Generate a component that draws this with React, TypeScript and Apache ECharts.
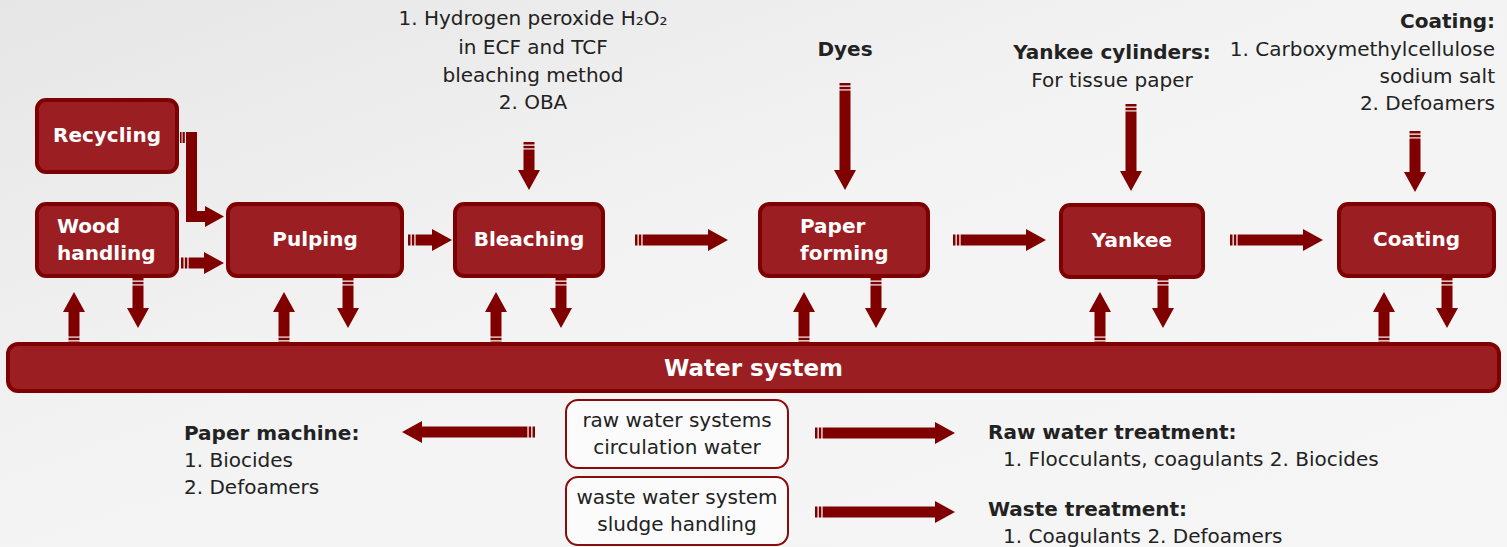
import React, { useEffect, useRef } from "react";
import * as echarts from "echarts";

// ---- content ----
const processLabels = ["Recycling", "Wood\nhandling", "Pulping", "Bleaching", "Paper\nforming", "Yankee", "Coating"];
const waterLabel = "Water system";
const bleachNote = ["1. Hydrogen peroxide H₂O₂", "in ECF and TCF", "bleaching method", "2. OBA"];
const dyesNote = ["Dyes"];
const yankeeNote = ["Yankee cylinders:", "For tissue paper"];
const coatingNote = ["Coating:", "1. Carboxymethylcellulose", "sodium salt", "2. Defoamers"];
const paperMachineNote = ["Paper machine:", "1. Biocides", "2. Defoamers"];
const rawTreatNote = ["Raw water treatment:", "1. Flocculants, coagulants 2. Biocides"];
const wasteTreatNote = ["Waste treatment:", "1. Coagulants 2. Defoamers"];
const systemLabels = [["raw water systems", "circulation water"], ["waste water system", "sludge handling"]];

// ---- layout ----
const processLayout = [
  [37, 100, 140, 72], [37, 204, 140, 72], [228, 204, 174, 72], [455, 204, 148, 72],
  [760, 204, 168, 72], [1061, 205, 142, 72], [1339, 204, 155, 72],
];
// x of label: null => centered; number => left aligned at x
const processLabelX: (number | null)[] = [null, 57, null, null, 800, null, null];
const waterLayout = [8, 344, 1491, 47];
const systemLayout = [[566, 400, 222, 68], [566, 477, 222, 68]];
const arrows = [
  [181, 263, 224, 263], [408, 240, 452, 240], [635, 240, 728, 240], [953, 240, 1046, 240], [1230, 240, 1323, 240],
  [529, 142, 529, 190], [845, 83, 845, 190], [1131, 104, 1131, 191], [1415, 131, 1415, 192],
  [74, 344, 74, 292], [284, 344, 284, 292], [496, 344, 496, 292], [804, 344, 804, 292], [1100, 344, 1100, 292], [1384, 344, 1384, 292],
  [138, 278, 138, 328], [348, 278, 348, 328], [561, 278, 561, 328], [876, 278, 876, 328], [1163, 278, 1163, 328], [1447, 278, 1447, 328],
  [535, 432, 402, 432], [815, 433, 955, 433], [815, 512, 955, 512],
];

const ARROW = "#800000";
const BOX_FILL = "#9b1e23";
const BOX_STROKE = "#7e0000";
const TEXT = "#222222";
const FONT = "'DejaVu Sans', Verdana, sans-serif";

function makeArrow(x1: number, y1: number, x2: number, y2: number) {
  const L = Math.hypot(x2 - x1, y2 - y1);
  const dx = (x2 - x1) / L, dy = (y2 - y1) / L;
  const px = -dy, py = dx;
  const sw = 5.5, hw = 11, hl = 20;
  const P = (u: number, v: number) => [x1 + u * dx + v * px, y1 + u * dy + v * py];
  const els: any[] = [];
  const poly = (pts: number[][]) => ({ type: "polygon", shape: { points: pts }, style: { fill: ARROW }, silent: true });
  // stripes
  els.push(poly([P(0, -sw), P(2.5, -sw), P(2.5, sw), P(0, sw)]));
  els.push(poly([P(3.8, -sw), P(6.3, -sw), P(6.3, sw), P(3.8, sw)]));
  els.push(poly([
    P(7.6, -sw), P(L - hl, -sw), P(L - hl, -hw), P(L, 0), P(L - hl, hw), P(L - hl, sw), P(7.6, sw),
  ]));
  return els;
}

function txt(x: number, y: number, text: string, opts: any = {}) {
  const align = opts.align || "left";
  return {
    type: "text",
    x, y, silent: true,
    style: {
      text,
      fill: opts.fill || TEXT,
      fontSize: opts.size || 20,
      fontWeight: opts.bold ? "bold" : "normal",
      fontFamily: FONT,
      align, textAlign: align,
      verticalAlign: "middle", textVerticalAlign: "middle",
      lineHeight: opts.lineHeight || 27,
    },
  };
}

export default function App() {
  const ref = useRef<HTMLDivElement>(null);
  useEffect(() => {
    const chart = echarts.init(ref.current!, undefined, { renderer: "svg" });
    const g: any[] = [];
    g.push({
      type: "rect", shape: { x: 0, y: 0, width: 1507, height: 547 }, silent: true, z: -10,
      style: {
        fill: new echarts.graphic.LinearGradient(0, 0, 1, 1, [
          { offset: 0, color: "#e6e6e6" }, { offset: 0.45, color: "#f3f3f3" }, { offset: 1, color: "#f6f6f6" },
        ]),
      },
    });
    // process boxes
    processLayout.forEach(([x, y, w, h], i) => {
      g.push({ type: "rect", shape: { x, y, width: w, height: h, r: 9 }, silent: true,
        style: { fill: BOX_FILL, stroke: BOX_STROKE, lineWidth: 4 } });
      const lx = processLabelX[i];
      g.push(txt(lx == null ? x + w / 2 : lx, y + h / 2 - 1, processLabels[i],
        { bold: true, fill: "#ffffff", align: lx == null ? "center" : "left" }));
    });
    // water system
    {
      const [x, y, w, h] = waterLayout;
      g.push({ type: "rect", shape: { x, y, width: w, height: h, r: 10 }, silent: true,
        style: { fill: BOX_FILL, stroke: BOX_STROKE, lineWidth: 4 } });
      g.push(txt(x + w / 2, y + h / 2, waterLabel, { bold: true, fill: "#ffffff", align: "center", size: 23 }));
    }
    // system boxes
    systemLayout.forEach(([x, y, w, h], i) => {
      g.push({ type: "rect", shape: { x, y, width: w, height: h, r: 12 }, silent: true,
        style: { fill: "rgba(255,255,255,0.6)", stroke: "#8b0a0a", lineWidth: 2 } });
      systemLabels[i].forEach((s, j) => g.push(txt(x + w / 2, y + 20 + j * 27, s, { align: "center" })));
    });
    // arrows
    arrows.forEach(([a, b, c, d]) => makeArrow(a, b, c, d).forEach((e) => g.push(e)));
    // recycling L arrow
    g.push({ type: "polygon", silent: true, style: { fill: ARROW }, shape: { points: [
      [186, 132], [197, 132], [197, 211], [205, 211], [205, 206], [224, 216.5], [205, 227], [205, 222], [186, 222],
    ] } });
    g.push({ type: "rect", silent: true, shape: { x: 180, y: 132, width: 1.6, height: 11 }, style: { fill: ARROW } });
    g.push({ type: "rect", silent: true, shape: { x: 182.6, y: 132, width: 2.2, height: 11 }, style: { fill: ARROW } });

    // notes
    const bleachY = [18, 47, 75, 102];
    bleachNote.forEach((s, i) => g.push(txt(533, bleachY[i], s, { align: "center" })));
    g.push(txt(845, 49, dyesNote[0], { bold: true, align: "center" }));
    g.push(txt(1112, 52, yankeeNote[0], { bold: true, align: "center" }));
    g.push(txt(1112, 80, yankeeNote[1], { align: "center" }));
    const coatY = [21, 49, 76, 103];
    coatingNote.forEach((s, i) => g.push(txt(1495, coatY[i], s, { align: "right", bold: i === 0 })));
    const pmY = [433, 460, 487];
    paperMachineNote.forEach((s, i) => g.push(txt(184, pmY[i], s, { bold: i === 0 })));
    g.push(txt(988, 432, rawTreatNote[0], { bold: true }));
    g.push(txt(1003, 459, rawTreatNote[1]));
    g.push(txt(988, 509, wasteTreatNote[0], { bold: true }));
    g.push(txt(1003, 536, wasteTreatNote[1]));

    chart.setOption({ animation: false, graphic: { elements: g } });
    return () => chart.dispose();
  }, []);
  return <div ref={ref} style={{ position: "absolute", left: 0, top: 0, width: 1507, height: 547 }} />;
}
